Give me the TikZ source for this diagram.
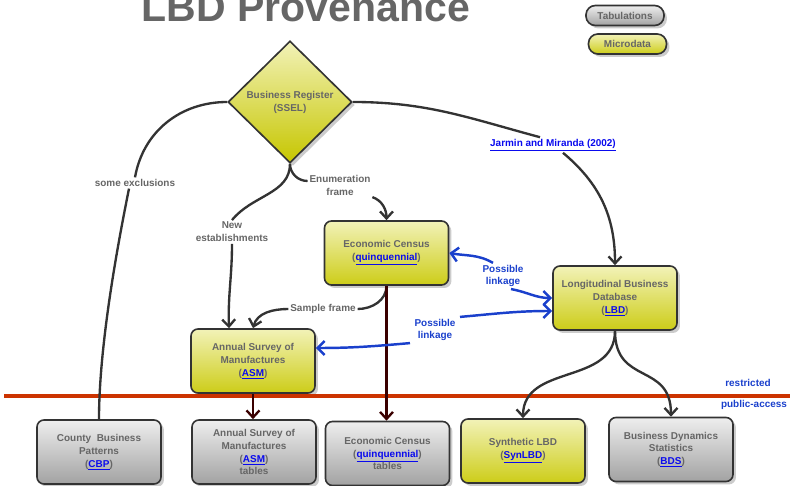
\documentclass[tikz,border=0pt]{standalone}
\usepackage{fontspec}
\setmainfont{Liberation Sans}
\usetikzlibrary{shapes.geometric,shadows,arrows.meta,calc}

\definecolor{txtgray}{HTML}{666666}
\definecolor{linkblue}{HTML}{0A0AEE}
\definecolor{pblue}{HTML}{1A40CC}
\definecolor{edge}{HTML}{333333}
\definecolor{darkred}{HTML}{3A0000}
\definecolor{redline}{HTML}{CC3300}
\definecolor{ytop}{HTML}{F2F2B8}
\definecolor{ybot}{HTML}{CDCD18}
\definecolor{dbot}{HTML}{C6C600}
\definecolor{gtop}{HTML}{EEEEEE}
\definecolor{gbot}{HTML}{A2A2A2}

\newcommand{\lnk}[1]{\textcolor{linkblue}{\underline{#1}}}

\tikzset{
  micro/.style={draw=edge, line width=1.4pt, rounded corners=6pt,
    top color=ytop, bottom color=ybot, text=txtgray, align=center,
    minimum width=3.72cm, minimum height=1.92cm,
    font=\fontsize{8.5}{11}\selectfont\bfseries,
    drop shadow={opacity=0.4, shadow xshift=2.5pt, shadow yshift=-2.5pt}},
  tabul/.style={micro, top color=gtop, bottom color=gbot},
  diam/.style={micro, diamond, rounded corners=0pt, inner sep=0pt,
    top color=ytop, bottom color=dbot,
    minimum width=3.72cm, minimum height=3.66cm},
  pill/.style={micro, rounded corners=8pt, minimum width=2.34cm,
    minimum height=0.6cm, inner sep=0pt},
  note/.style={text=txtgray, align=center, inner sep=1.5pt,
    font=\fontsize{8.5}{11}\selectfont\bfseries},
  bnote/.style={note, text=pblue},
  title/.style={text=txtgray, inner sep=0pt,
    font=\fontsize{35}{40}\selectfont\bfseries},
  plain/.style={draw=edge, line width=2pt},
  flow/.style={plain, -{Straight Barb[length=6pt,width=11pt]}},
  pub/.style={draw=darkred, line width=2pt, -{Straight Barb[length=6pt,width=11pt]}},
  link/.style={draw=pblue, line width=2.1pt, -{Straight Barb[length=6pt,width=12pt]}}
}

\begin{document}
\begin{tikzpicture}[x=0.03cm,y=-0.03cm]

\useasboundingbox (0,0) rectangle (790,486);
\clip (0,0) rectangle (790,486);

\node[title, anchor=base] (ttl) at (306,22) {LBD Provenance};

\node[pill, top color=gtop, bottom color=gbot] (tab) at (625,15.5) {Tabulations};
\node[pill] (mic) at (627.5,44) {Microdata};

\node[diam] (ssel) at (290,102) {Business Register\\(SSEL)};

\node[micro] (ec) at (386.5,253) {Economic Census\\(\lnk{quinquennial})};
\node[micro] (lbd) at (615,298) {Longitudinal Business\\Database\\(\lnk{LBD})};
\node[micro] (asm) at (253,361) {Annual Survey of\\Manufactures\\(\lnk{ASM})};

\node[tabul] (cbp) at (99,452) {County~~Business\\Patterns\\(\lnk{CBP})};
\node[tabul] (asmtab) at (254,452) {Annual Survey of\\Manufactures\\(\lnk{ASM})\\tables};
\node[tabul] (ectab) at (387.5,453.5) {Economic Census\\(\lnk{quinquennial})\\tables};
\node[micro] (syn) at (523,451) {Synthetic LBD\\(\lnk{SynLBD})};
\node[tabul] (bds) at (671,449.5) {Business Dynamics\\Statistics\\(\lnk{BDS})};

% access boundary
\draw[redline, line width=2.8pt] (4,396) -- (790,396);
\node[bnote] (restr) at (748,383) {restricted};
\node[bnote] (pubacc) at (754,405) {public-access};

\node[note] (excl) at (135,183) {some exclusions};
\node[note] (newest) at (232,232) {New\\establishments};
\node[note] (enum) at (340,185) {Enumeration\\frame};
\node[note] (sample) at (323,309) {Sample frame};
\node[note, text=linkblue] (jm) at (553,145) {\underline{Jarmin and Miranda (2002)}};
\node[bnote] (pl1) at (503,276) {Possible\\linkage};
\node[bnote] (pl2) at (435,330) {Possible\\linkage};

\draw[plain] (ssel.west) to[out=180,in=80] (excl.north);
\draw[plain] ($(excl.south)+(-6,0)$) .. controls +(-8,40) and +(0,-80) .. (cbp.north);

\draw[plain] (ssel.south) .. controls +(0,30) and +(20,-25) .. (newest.north);
\draw[flow] (newest.south) to[out=-90,in=92] ($(asm.north)+(-24,0)$);

\draw[plain] (ssel.south) to[out=-90,in=180] ($(enum.west)+(0,-4)$);
\draw[flow] (enum.south east) to[out=-20,in=90] (ec.north);

\draw[plain] (ec.south) to[out=-90,in=0] (sample.east);
\draw[flow] (sample.west) to[out=180,in=75] (asm.north);

\draw[pub] (ec.south) -- (ec.south |- ectab.north);
\draw[pub] (asm.south) -- (asm.south |- asmtab.north);

\draw[plain] (ssel.east) to[out=0,in=165] ($(jm.north)+(-13,0)$);
\draw[flow] ($(jm.south)+(10,0)$) to[out=-40,in=90] (lbd.north);

\draw[link] ($(pl1.north)+(-10,0)$) to[out=150,in=-10] (ec.east);
\draw[link] ($(pl1.south)+(8,0)$) to[out=-10,in=180] (lbd.west);
\draw[link] ($(pl2.south)+(-25,0)$) to[out=185,in=0] ($(asm.east)+(0,-13)$);
\draw[link] ($(pl2.north)+(25,0)$) to[out=5,in=180] ($(lbd.west)+(0,13)$);

\draw[flow] (lbd.south) .. controls +(0,55) and +(0,-55) .. (syn.north);
\draw[flow] (lbd.south) .. controls +(0,55) and +(0,-55) .. (bds.north);

\end{tikzpicture}
\end{document}
